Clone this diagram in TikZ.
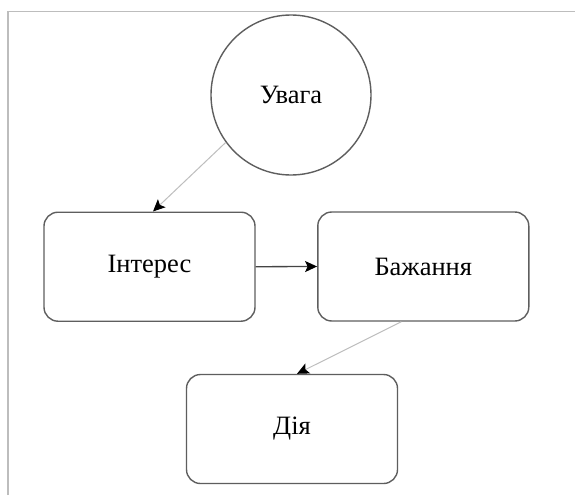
\documentclass[tikz,border=0pt]{standalone}
\usepackage{fontspec}
\setmainfont{Liberation Serif}
\usetikzlibrary{arrows.meta}
\definecolor{boxgray}{HTML}{5E5E5E}
\definecolor{framegray}{HTML}{BDBDBD}
\definecolor{linklight}{HTML}{BEBEBE}
\definecolor{linkdark}{HTML}{444444}
\begin{document}
\begin{tikzpicture}[x=1pt,y=-1pt,
  label text/.style={font=\fontsize{26.5}{30}\selectfont},
  stage/.style={draw=boxgray, line width=1.4pt, rounded corners=14pt,
    minimum width=211pt, minimum height=109pt, inner sep=0pt, label text},
  start/.style={draw=boxgray, line width=1.4pt, circle, minimum size=160pt,
    inner sep=0pt, label text},
  tip/.style={-{Stealth[length=12pt,width=11pt,inset=2.5pt,color=black]}},
  softlink/.style={tip, draw=linklight, line width=1pt},
  hardlink/.style={tip, draw=linkdark, line width=1.3pt}]
\useasboundingbox (0,0) rectangle (575,495);
\fill[white] (0,0) rectangle (575,495);
% page frame (top and left edges)
\draw[framegray, line width=1.2pt] (8,495) -- (8,11.5) -- (575,11.5);

\node[start] (u) at (291,95) {Увага};
\node[stage] (i) at (149.5,266.7) {Інтерес};
\node[stage] (b) at (423.3,266.5) {Бажання};
\node[stage] (d) at (292,429) {Дія};

\draw[softlink] (u.216) -- ([xshift=3.5pt]i.north);
\draw[hardlink] (i.east) -- (b.west);
\draw[softlink] ([xshift=-22pt]b.south) -- ([xshift=5pt]d.north);
\end{tikzpicture}
\end{document}
